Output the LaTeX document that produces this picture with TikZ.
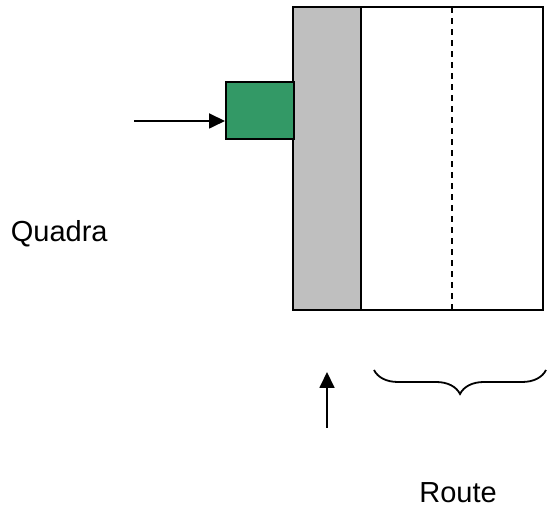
\documentclass[tikz,border=0pt]{standalone}
\usepackage{fontspec}
\setmainfont{Liberation Sans}
\usetikzlibrary{arrows.meta, calc}
\usetikzlibrary{decorations.pathreplacing}

\begin{document}
\begin{tikzpicture}[x=1pt, y=1pt, line width=1.8pt,
    block/.style={draw, inner sep=0pt, anchor=south west},
    push/.style={-{Triangle[length=16pt, width=15pt]}},
    label/.style={font=\fontsize{29}{34}\selectfont, inner sep=0pt}]
            \useasboundingbox (0,0) rectangle (548,510);
            \coordinate (A) at (293,200);
            \coordinate (B) at (543,503);
            \coordinate (C) at (361,503);
            \coordinate (D) at (452,200);
            \coordinate (E) at (134,389);
            \coordinate (F) at (327,82);
            \coordinate (G) at (327,138);
            \coordinate (H) at (374,140);
            \coordinate (K) at (546,140);
            \fill[gray!50] (A) rectangle (C);
            \draw (A) rectangle (B);
            \draw (C) -- (C |- A);
            \draw[line width=1.4pt, dash pattern=on 6pt off 5pt] (D) -- (D |- B);
            \node[block, fill={rgb,255:red,51;green,153;blue,102}, minimum width=68pt, minimum height=57pt] (green) at (225,370) {};
            \draw[push] (E) -- (E -| green.west);
            \draw[push] (F) -- (G);
            \draw[decorate, decoration={brace, mirror, amplitude=24pt}] (H) -- (K);
            \node[label, anchor=base west] (quadra) at (10,268) {Quadra};
            \node[label, anchor=base] (route) at (458,7) {Route};
        \end{tikzpicture}
\end{document}
